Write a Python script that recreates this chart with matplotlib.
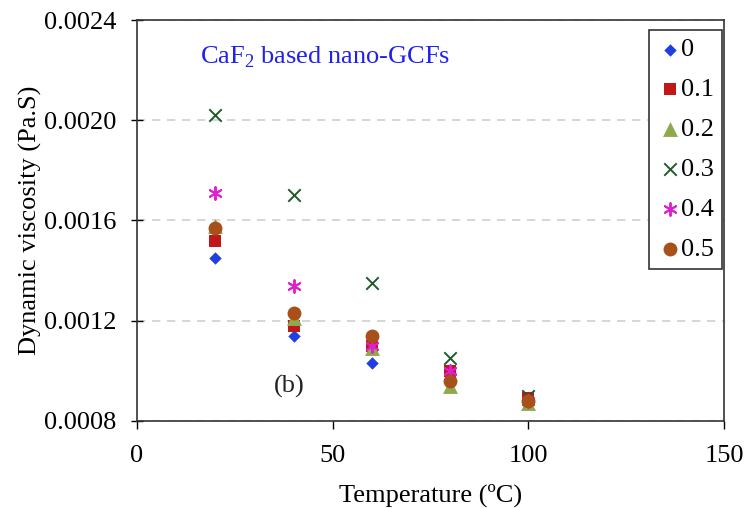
import matplotlib
matplotlib.use("Agg")
import matplotlib.pyplot as plt
from matplotlib.ticker import FixedLocator

plt.rcParams['font.family'] = ['Liberation Serif', 'DejaVu Serif']
plt.rcParams['mathtext.fontset'] = 'custom'
plt.rcParams['mathtext.rm'] = 'Liberation Serif'

temps = [20, 40, 60, 80, 100]
labels = ["0", "0.1", "0.2", "0.3", "0.4", "0.5"]
v0  = [0.00145, 0.00114, 0.00103, 0.00099, 0.00088]
v01 = [0.00152, 0.00118, 0.00110, 0.00100, 0.00089]
v02 = [0.00158, 0.00121, 0.00109, 0.00094, 0.00087]
v03 = [0.00202, 0.00170, 0.00135, 0.00105, 0.00090]
v04 = [0.00171, 0.00134, 0.00110, 0.00100, 0.00088]
v05 = [0.00157, 0.00123, 0.00114, 0.00096, 0.00088]
series = [v0, v01, v02, v03, v04, v05]

styles = [
    dict(marker='D', color='#1F3FE0', s=40, lw=0),
    dict(marker='s', color='#C01818', s=72, lw=0),
    dict(marker='^', color='#8FAA4E', s=115, lw=0),
    dict(marker='x', color='#1E5A2A', s=80, lw=1.4),
    dict(marker=(6, 2, 0), color='#E020D0', s=85, lw=1.4),
    dict(marker='o', color='#A8501A', s=100, lw=0),
]

FS = 19

fig = plt.figure(figsize=(7.46, 5.08), dpi=100)
ax = fig.add_axes([0.1836, 0.1713, 0.7869, 0.7893])

for vals, lab, st in zip(series, labels, styles):
    ax.scatter(temps, vals, marker=st['marker'], color=st['color'], s=st['s'],
               linewidths=st['lw'], label=lab, zorder=3)

ax.set_xlim(0, 150)
ax.set_ylim(0.0008, 0.0024)
ax.xaxis.set_major_locator(FixedLocator([0, 50, 100, 150]))
ax.yaxis.set_major_locator(FixedLocator([0.0008, 0.0012, 0.0016, 0.0020, 0.0024]))
ax.set_yticklabels(["0.0008", "0.0012", "0.0016", "0.0020", "0.0024"])
ax.tick_params(axis='x', direction='out', length=6, width=1, labelsize=FS, pad=11)
ax.tick_params(axis='y', direction='inout', length=9, width=1, labelsize=FS, pad=10)
ax.yaxis.grid(True, linestyle=(0, (5, 4)), color='#D0D0D0', linewidth=1.2)
ax.set_axisbelow(True)
for sp in ax.spines.values():
    sp.set_linewidth(1.2)
    sp.set_color('#333333')

ax.set_xlabel("Temperature (ºC)", fontsize=FS, labelpad=12)
ax.set_ylabel("Dynamic viscosity (Pa.S)", fontsize=FS, labelpad=2)

ax.text(16, 0.002252, "CaF$_2$ based nano-GCFs", color='#2020F0', fontsize=FS,
        ha='left', va='center')
ax.text(39, 0.000936, "(b)", color='#222222', fontsize=FS, ha='center', va='center')

leg = ax.legend(loc='upper right', bbox_to_anchor=(0.9965, 0.975), fontsize=FS,
                frameon=True, fancybox=False, edgecolor='#333333', framealpha=1,
                handletextpad=-0.1, labelspacing=0.62, borderpad=0.3,
                handlelength=1.0, markerscale=1.0, borderaxespad=0.0)
leg.get_frame().set_linewidth(1.2)

fig.savefig("out.png", dpi=100)
